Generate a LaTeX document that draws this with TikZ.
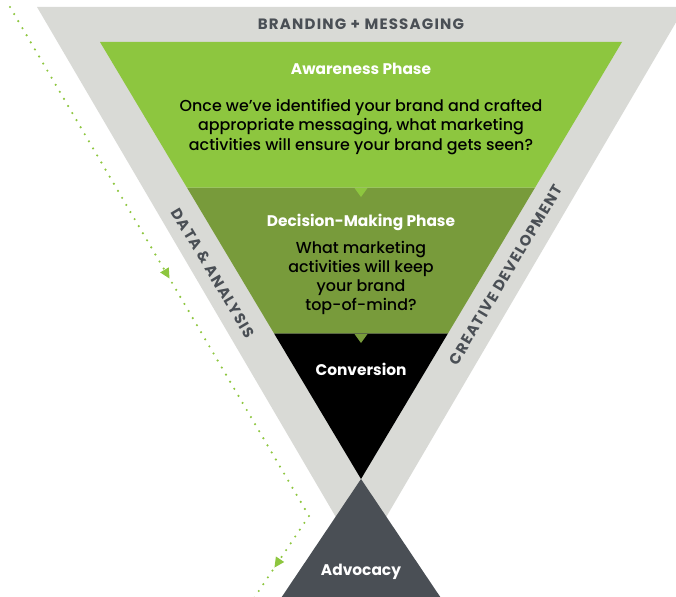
\documentclass[tikz,border=0pt]{standalone}
\usepackage{fontspec}
\setmainfont{Poppins}
\newfontfamily\medfont{Poppins Medium}
\usetikzlibrary{calc,decorations.markings,arrows.meta}
\definecolor{bandgray}{HTML}{D9DAD6}
\definecolor{lightgreen}{HTML}{8DC63F}
\definecolor{midgreen}{HTML}{789B3B}
\definecolor{darkslate}{HTML}{4A4F55}
\tikzset{
  headtext/.style={text=white,font=\bfseries\fontsize{15.4}{18}\selectfont},
  bodytext/.style={text=black,align=center,font=\medfont\fontsize{15.9}{19.3}\selectfont},
  bandtext/.style={text=darkslate,font=\bfseries\fontsize{15}{16}\selectfont\addfontfeatures{LetterSpace=8}},
  dotline/.style={lightgreen,line width=2.4pt,line cap=round,dash pattern=on 0pt off 8.2pt},
}
\begin{document}
\begin{tikzpicture}[x=1pt,y=-1pt]
\useasboundingbox (0,0) rectangle (676,596);
\clip (0,0) rectangle (676,596);
% outer band
\coordinate (OL) at (37,7);
\coordinate (OR) at (685,7);
\coordinate (OA) at (361,560);
\fill[bandgray] (OL) -- (OR) -- (OA) -- cycle;
% inner funnel
\coordinate (TL) at (100,42);
\coordinate (TR) at (622,42);
\coordinate (AP) at (361,479);
\coordinate (L1) at ($(TL)!1/3!(AP)$);
\coordinate (R1) at ($(TR)!1/3!(AP)$);
\coordinate (L2) at ($(TL)!2/3!(AP)$);
\coordinate (R2) at ($(TR)!2/3!(AP)$);
\fill[black] (L2) -- (R2) -- (AP) -- cycle;
\fill[midgreen] (L1) -- (R1) -- (R2) -- (L2) -- cycle;
\fill[midgreen] ($(361,334)+(-6.5,0)$) -- ($(361,334)+(6.5,0)$) -- (361,343) -- cycle;
\fill[lightgreen] (TL) -- (TR) -- (R1) -- (L1) -- cycle;
\fill[lightgreen] ($(361,188)+(-6.5,0)$) -- ($(361,188)+(6.5,0)$) -- (361,197) -- cycle;
% advocacy
\coordinate (BL) at (273,610);
\coordinate (BR) at (449,610);
\fill[darkslate] (AP) -- (BR) -- (BL) -- cycle;
% texts
\node[bandtext] (brand) at (361,24) {BRANDING + MESSAGING};
\node[bandtext,rotate=-59.2] (data) at (213,273) {DATA \& ANALYSIS};
\node[bandtext,rotate=59.2] (creative) at (506,275) {CREATIVE DEVELOPMENT};
\node[headtext] (aw) at (361,69) {Awareness Phase};
\node[bodytext] (awb) at (361,127) {Once we’ve identified your brand and crafted\\appropriate messaging, what marketing\\activities will ensure your brand gets seen?};
\node[headtext] (dm) at (361,222) {Decision-Making Phase};
\node[bodytext] (dmb) at (361,278) {What marketing\\activities will keep\\your brand\\top-of-mind?};
\node[headtext] (conv) at (361,369) {Conversion};
\node[headtext] (adv) at (361,572) {Advocacy};
% dotted path
\coordinate (D1) at (10,7);
\coordinate (D2) at (309,516);
\coordinate (D3) at (240,619);
\draw[dotline] (D1) -- (D2) -- (D3);
\path[postaction={decorate},decoration={markings,mark=at position 0.525 with {\fill[lightgreen] (5,0) -- (-5,5) -- (-5,-5) -- cycle;}}] (D1) -- (D2);
\path[postaction={decorate},decoration={markings,mark=at position 0.46 with {\fill[lightgreen] (5,0) -- (-5,5) -- (-5,-5) -- cycle;}}] (D2) -- (D3);
\end{tikzpicture}
\end{document}
